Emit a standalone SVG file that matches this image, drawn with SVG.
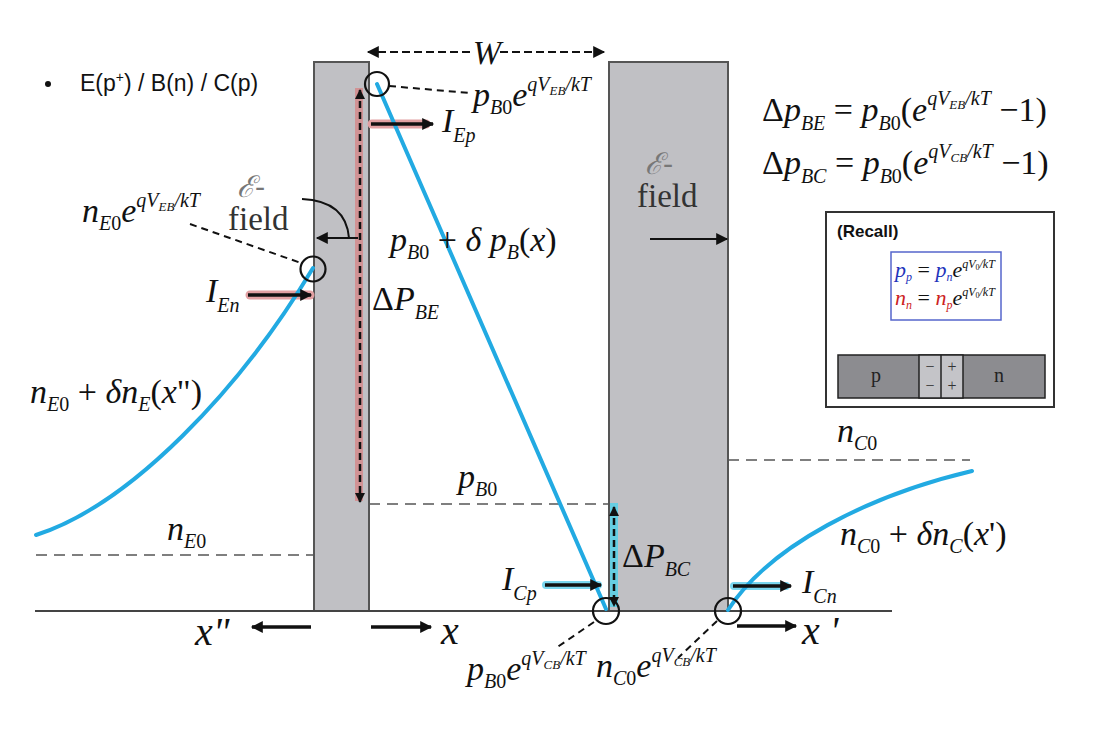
<svg xmlns="http://www.w3.org/2000/svg" width="1115" height="729" viewBox="0 0 1115 729">
<style>
.m{font-family:"Liberation Serif","Times New Roman",serif;font-style:italic;font-size:34px;fill:#111}
.big{font-size:40px}
.rc{font-size:22px}
.up{font-style:normal}
.s{font-size:20px}
.ss{font-size:13px}
.dep{fill:#c0c0c4;stroke:#555;stroke-width:2}
.blue{fill:none;stroke:#22aae2;stroke-width:4;stroke-linecap:round}
.lvl{fill:none;stroke:#555;stroke-width:1.6;stroke-dasharray:11 7}
.lead{fill:none;stroke:#111;stroke-width:2;stroke-dasharray:7 5}
.circ{fill:none;stroke:#111;stroke-width:2.2}
.arr{fill:none;stroke:#111;stroke-width:3.5;marker-end:url(#ah)}
.thin{fill:none;stroke:#111;stroke-width:2;marker-end:url(#ah)}
.dar{fill:none;stroke:#111;stroke-width:2.5;stroke-dasharray:7 4;marker-start:url(#ah2);marker-end:url(#ah2)}
.hlr{stroke:#e2a0a2;stroke-width:9;stroke-linecap:round}
.hlc{stroke:#7ad6ee;stroke-width:8;stroke-linecap:round}
.fld{font-family:"Liberation Serif",serif;font-size:33px;fill:#333}
.scr{font-family:"DejaVu Serif",serif;font-style:italic;font-size:30px;fill:#777}
.pm{font-family:"Liberation Serif",serif;font-size:16px;fill:#333}
</style>
<defs>
<marker id="ah" viewBox="0 0 10 10" refX="9" refY="5" markerWidth="13" markerHeight="12" markerUnits="userSpaceOnUse" orient="auto-start-reverse"><path d="M0,0 L10,5 L0,10 z" fill="#111"/></marker>
<marker id="ah2" viewBox="0 0 10 10" refX="9" refY="5" markerWidth="11" markerHeight="10" markerUnits="userSpaceOnUse" orient="auto-start-reverse"><path d="M0,0 L10,5 L0,10 z" fill="#111"/></marker>
</defs>
<rect width="1115" height="729" fill="#fff"/>

<g id="title">
<circle cx="48" cy="84" r="3" fill="#111"/>
<text x="80" y="91" font-family="Liberation Sans, Arial, sans-serif" font-size="23" fill="#111">E(p<tspan font-size="14" dy="-9">+</tspan><tspan dy="9">) / B(n) / C(p)</tspan></text>
</g>

<g id="depletion-regions">
<rect id="eb-junction" class="dep" x="314" y="62" width="55" height="549"/>
<rect id="cb-junction" class="dep" x="609" y="62" width="119" height="549"/>
</g>

<g id="axis">
<line x1="35" y1="611" x2="892" y2="611" stroke="#444" stroke-width="2"/>
</g>

<g id="levels">
<line class="lvl" x1="36" y1="555" x2="314" y2="555"/>
<line class="lvl" x1="369" y1="504" x2="609" y2="504"/>
<line class="lvl" x1="728" y1="460" x2="970" y2="460"/>
</g>

<g id="highlights">
<rect x="355" y="88" width="8" height="413" fill="#d48a8c" opacity="0.85"/>
<rect x="610" y="503" width="8" height="104" fill="#5ccfe6" opacity="0.9"/>
<line class="hlr" x1="250" y1="295" x2="310" y2="295"/>
<line class="hlr" x1="372" y1="124" x2="426" y2="124"/>
<line class="hlc" x1="546" y1="585" x2="598" y2="585"/>
<line class="hlc" x1="734" y1="586" x2="786" y2="586"/>
</g>

<g id="profiles">
<path class="blue" d="M36,535 C130,505 240,390 313,268"/>
<path class="blue" d="M377,84 L606,609"/>
<path class="blue" d="M728,610 C770,545 870,495 972,471"/>
</g>

<g id="connectors">
<line class="thin" x1="470" y1="52" x2="368" y2="52" stroke-dasharray="8 4"/>
<line class="thin" x1="500" y1="52" x2="604" y2="52" stroke-dasharray="8 4"/>
<line class="lead" x1="389" y1="86" x2="470" y2="93"/>
<line class="lead" x1="190" y1="224" x2="301" y2="263"/>
<line class="lead" x1="594" y1="622" x2="556" y2="648"/>
<line class="lead" x1="717" y1="621" x2="678" y2="658"/>
<line class="dar" x1="360" y1="90" x2="360" y2="502"/>
<line class="dar" x1="614" y1="507" x2="614" y2="606"/>
<line class="arr" x1="248" y1="295" x2="311" y2="295"/>
<line class="arr" x1="371" y1="124" x2="433" y2="124"/>
<line class="arr" x1="545" y1="585" x2="601" y2="585"/>
<line class="arr" x1="733" y1="586" x2="791" y2="586"/>
<line class="arr" x1="311" y1="627" x2="252" y2="627"/>
<line class="arr" x1="371" y1="627" x2="431" y2="627"/>
<line class="arr" x1="737" y1="626" x2="796" y2="626"/>
<path d="M302,199 Q346,201 349,238" fill="none" stroke="#111" stroke-width="2"/>
<line class="thin" x1="358" y1="238" x2="317" y2="238"/>
<line class="thin" x1="650" y1="239" x2="727" y2="239"/>
<circle class="circ" cx="377" cy="84" r="12"/>
<circle class="circ" cx="313" cy="269" r="12.5"/>
<circle class="circ" cx="606" cy="611" r="13"/>
<circle class="circ" cx="728" cy="611" r="13"/>
</g>

<g id="field-labels">
<text class="scr" x="237" y="197">ℰ<tspan font-style="normal">-</tspan></text>
<text class="fld" x="228" y="230">field</text>
<text class="scr" x="645" y="174">ℰ<tspan font-style="normal">-</tspan></text>
<text class="fld" x="637" y="207">field</text>
</g>

<g id="labels">
<text class="m" x="487" y="64" text-anchor="middle">W</text>
<text class="m" x="473" y="106">p<tspan class="s" dy="8">B</tspan><tspan class="s up">0</tspan><tspan dy="-8">e</tspan><tspan class="s" dy="-15">qV</tspan><tspan class="ss" dy="4">EB</tspan><tspan class="s" dy="-4">/kT</tspan></text>
<text class="m" x="442" y="132">I<tspan class="s" dy="10">Ep</tspan></text>
<text class="m" x="82" y="222">n<tspan class="s" dy="8">E</tspan><tspan class="s up">0</tspan><tspan dy="-8">e</tspan><tspan class="s" dy="-15">qV</tspan><tspan class="ss" dy="4">EB</tspan><tspan class="s" dy="-4">/kT</tspan></text>
<text class="m" x="206" y="302">I<tspan class="s" dy="10">En</tspan></text>
<text class="m" x="390" y="251">p<tspan class="s" dy="8">B</tspan><tspan class="s up">0</tspan><tspan class="up" dy="-8"> + </tspan>δ p<tspan class="s" dy="8">B</tspan><tspan class="up" dy="-8">(</tspan>x<tspan class="up">)</tspan></text>
<text class="m" x="372" y="310"><tspan class="up">Δ</tspan>P<tspan class="s" dy="9">BE</tspan></text>
<text class="m" x="30" y="403">n<tspan class="s" dy="8">E</tspan><tspan class="s up">0</tspan><tspan class="up" dy="-8"> + </tspan>δn<tspan class="s" dy="8">E</tspan><tspan class="up" dy="-8">(</tspan>x<tspan class="up">")</tspan></text>
<text class="m" x="458" y="488">p<tspan class="s" dy="8">B</tspan><tspan class="s up">0</tspan></text>
<text class="m" x="167" y="540">n<tspan class="s" dy="8">E</tspan><tspan class="s up">0</tspan></text>
<text class="m" x="837" y="442">n<tspan class="s" dy="8">C</tspan><tspan class="s up">0</tspan></text>
<text class="m" x="840" y="545">n<tspan class="s" dy="8">C</tspan><tspan class="s up">0</tspan><tspan class="up" dy="-8"> + </tspan>δn<tspan class="s" dy="8">C</tspan><tspan class="up" dy="-8">(</tspan>x<tspan class="up">')</tspan></text>
<text class="m" x="622" y="567"><tspan class="up">Δ</tspan>P<tspan class="s" dy="9">BC</tspan></text>
<text class="m" x="502" y="590">I<tspan class="s" dy="10">Cp</tspan></text>
<text class="m" x="802" y="593">I<tspan class="s" dy="10">Cn</tspan></text>
<text class="m big" x="195" y="645">x"</text>
<text class="m big" x="441" y="644">x</text>
<text class="m big" x="802" y="644">x '</text>
<text class="m" x="467" y="680">p<tspan class="s" dy="8">B</tspan><tspan class="s up">0</tspan><tspan dy="-8">e</tspan><tspan class="s" dy="-15">qV</tspan><tspan class="ss" dy="4">CB</tspan><tspan class="s" dy="-4">/kT</tspan></text>
<text class="m" x="596" y="677">n<tspan class="s" dy="8">C</tspan><tspan class="s up">0</tspan><tspan dy="-8">e</tspan><tspan class="s" dy="-15">qV</tspan><tspan class="ss" dy="4">CB</tspan><tspan class="s" dy="-4">/kT</tspan></text>
</g>

<g id="equations">
<text class="m" x="762" y="121"><tspan class="up">Δ</tspan>p<tspan class="s" dy="9">BE</tspan><tspan class="up" dy="-9"> = </tspan>p<tspan class="s" dy="9">B</tspan><tspan class="s up">0</tspan><tspan class="up" dy="-9">(</tspan>e<tspan class="s" dy="-16">qV</tspan><tspan class="ss" dy="4">EB</tspan><tspan class="s" dy="-4">/kT</tspan><tspan class="up" dy="16"> −1)</tspan></text>
<text class="m" x="762" y="174"><tspan class="up">Δ</tspan>p<tspan class="s" dy="9">BC</tspan><tspan class="up" dy="-9"> = </tspan>p<tspan class="s" dy="9">B</tspan><tspan class="s up">0</tspan><tspan class="up" dy="-9">(</tspan>e<tspan class="s" dy="-16">qV</tspan><tspan class="ss" dy="4">CB</tspan><tspan class="s" dy="-4">/kT</tspan><tspan class="up" dy="16"> −1)</tspan></text>
</g>

<g id="recall">
<rect x="826" y="212" width="228" height="195" fill="#fff" stroke="#333" stroke-width="2"/>
<text x="837" y="237" font-family="Liberation Sans, Arial, sans-serif" font-weight="bold" font-size="17" fill="#111">(Recall)</text>
<rect x="891" y="252" width="110" height="68" fill="#fff" stroke="#5566cc" stroke-width="1.5"/>
<text class="m rc" x="895" y="277"><tspan fill="#2233bb">p</tspan><tspan fill="#2233bb" font-size="12" dy="4">p</tspan><tspan class="up" dy="-4"> = </tspan><tspan fill="#2233bb">p</tspan><tspan fill="#2233bb" font-size="12" dy="4">n</tspan><tspan dy="-4">e</tspan><tspan font-size="12" dy="-9">qV</tspan><tspan font-size="8" dy="2" class="up">0</tspan><tspan font-size="12" dy="-2">/kT</tspan></text>
<text class="m rc" x="895" y="305"><tspan fill="#cc2222">n</tspan><tspan fill="#cc2222" font-size="12" dy="4">n</tspan><tspan class="up" dy="-4"> = </tspan><tspan fill="#cc2222">n</tspan><tspan fill="#cc2222" font-size="12" dy="4">p</tspan><tspan dy="-4">e</tspan><tspan font-size="12" dy="-9">qV</tspan><tspan font-size="8" dy="2" class="up">0</tspan><tspan font-size="12" dy="-2">/kT</tspan></text>
<rect x="838" y="355" width="207" height="43" fill="#8c8c90" stroke="#222" stroke-width="1.5"/>
<rect x="919" y="355" width="44" height="43" fill="#c4c4c8" stroke="#222" stroke-width="1.5"/>
<line x1="941" y1="355" x2="941" y2="398" stroke="#222" stroke-width="1.5"/>
<text x="876" y="382" font-family="Liberation Serif, serif" font-size="20" fill="#222" text-anchor="middle">p</text>
<text x="999" y="382" font-family="Liberation Serif, serif" font-size="20" fill="#222" text-anchor="middle">n</text>
<text class="pm" x="930" y="372" text-anchor="middle">−</text>
<text class="pm" x="930" y="391" text-anchor="middle">−</text>
<text class="pm" x="952" y="372" text-anchor="middle">+</text>
<text class="pm" x="952" y="391" text-anchor="middle">+</text>
</g>
</svg>
